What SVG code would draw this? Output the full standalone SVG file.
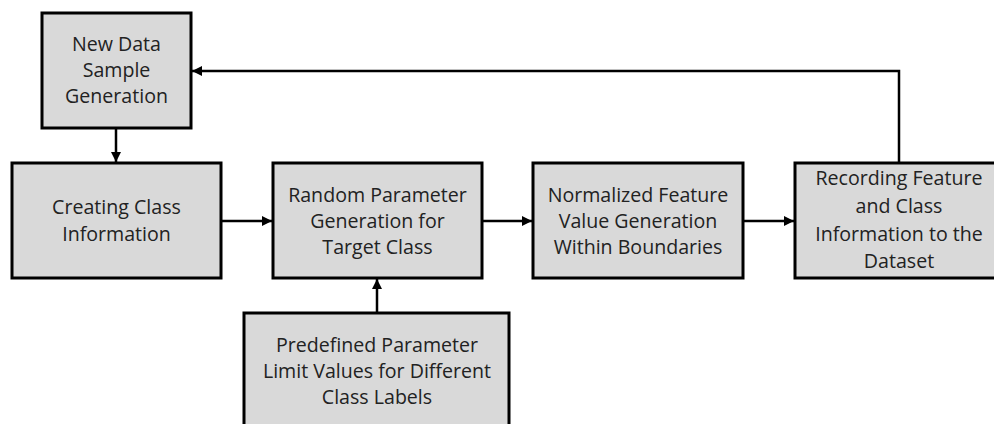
<svg xmlns="http://www.w3.org/2000/svg" width="994" height="424" viewBox="0 0 994 424">
<style>
.box{fill:#d9d9d9;stroke:#000;stroke-width:3}
.t{font-family:"Open Sans","Noto Sans",sans-serif;font-size:19.6px;fill:#222;text-anchor:middle}
.c{fill:none;stroke:#000;stroke-width:2.5}
</style>
<defs>
<marker id="ah" viewBox="0 0 10 10" refX="10" refY="5" markerWidth="4" markerHeight="4" orient="auto" markerUnits="strokeWidth">
<path d="M0,0 L10,5 L0,10 z" fill="#000"/>
</marker>
</defs>
<rect width="994" height="424" fill="#fff"/>
<g id="connectors">
<path class="c" d="M116,128 V162" marker-end="url(#ah)"/>
<path class="c" d="M221,221 H272" marker-end="url(#ah)"/>
<path class="c" d="M482,221 H532" marker-end="url(#ah)"/>
<path class="c" d="M743,221 H794" marker-end="url(#ah)"/>
<path class="c" d="M377,313 V279" marker-end="url(#ah)"/>
<path class="c" d="M899,163 V71 H192" marker-end="url(#ah)"/>
</g>
<g id="n1">
<rect class="box" x="42" y="13" width="149" height="115"/>
<text class="t" x="116.5" y="51">New Data</text>
<text class="t" x="116.5" y="77">Sample</text>
<text class="t" x="116.5" y="103">Generation</text>
</g>
<g id="n2">
<rect class="box" x="12" y="163" width="209" height="115"/>
<text class="t" x="116.5" y="214">Creating Class</text>
<text class="t" x="116.5" y="241">Information</text>
</g>
<g id="n3">
<rect class="box" x="273" y="163" width="209" height="115"/>
<text class="t" x="377.5" y="202">Random Parameter</text>
<text class="t" x="377.5" y="228">Generation for</text>
<text class="t" x="377.5" y="254">Target Class</text>
</g>
<g id="n4">
<rect class="box" x="533" y="163" width="210" height="115"/>
<text class="t" x="638" y="202">Normalized Feature</text>
<text class="t" x="638" y="228">Value Generation</text>
<text class="t" x="638" y="254">Within Boundaries</text>
</g>
<g id="n5">
<rect class="box" x="795" y="163" width="210" height="115"/>
<text class="t" x="899" y="185">Recording Feature</text>
<text class="t" x="899" y="213">and Class</text>
<text class="t" x="899" y="241">Information to the</text>
<text class="t" x="899" y="268">Dataset</text>
</g>
<g id="n6">
<rect class="box" x="244" y="313" width="265" height="130"/>
<text class="t" x="377" y="352">Predefined Parameter</text>
<text class="t" x="377" y="378">Limit Values for Different</text>
<text class="t" x="377" y="404">Class Labels</text>
</g>
</svg>
